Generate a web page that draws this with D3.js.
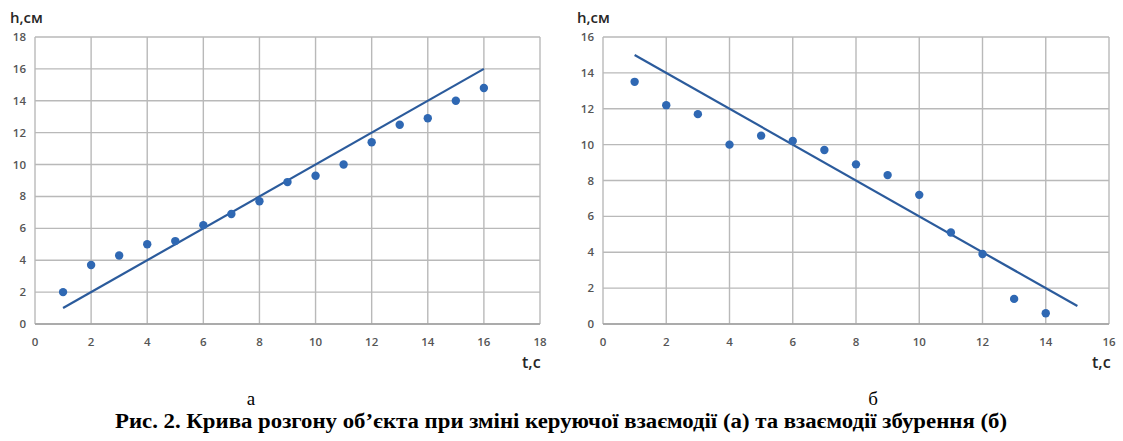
<!DOCTYPE html>
<html><head><meta charset="utf-8">
<script src="https://cdn.jsdelivr.net/npm/d3@7"></script>
<style>
body{margin:0;background:#fff;}
svg{display:block;}
</style></head><body>
<svg id="c" width="1123" height="441"></svg>
<script>
// Chart (а)
const tA = [1,2,3,4,5,6,7,8,9,10,11,12,13,14,15,16];
const hA = [2.0,3.7,4.3,5.0,5.2,6.2,6.9,7.7,8.9,9.3,10.0,11.4,12.5,12.9,14.0,14.8];
const lineA = [[1,1],[16,16]];
const xTicksA = [0,2,4,6,8,10,12,14,16,18];
const yTicksA = [0,2,4,6,8,10,12,14,16,18];
// Chart (б)
const tB = [1,2,3,4,5,6,7,8,9,10,11,12,13,14];
const hB = [13.5,12.2,11.7,10.0,10.5,10.2,9.7,8.9,8.3,7.2,5.1,3.9,1.4,0.6];
const lineB = [[1,15],[15,1]];
const xTicksB = [0,2,4,6,8,10,12,14,16];
const yTicksB = [0,2,4,6,8,10,12,14,16];
const yLabel = "h,см";
const xLabel = "t,c";
const subA = "а", subB = "б";
const caption = "Рис. 2. Крива розгону об’єкта при зміні керуючої взаємодії (а) та взаємодії збурення (б)";

const svg = d3.select("#c");
const gridC = "#b9b9b9", tickC = "#555555", dotC = "#2f68b3", lineC = "#2b5b9c";

function chart(cfg){
  const x = d3.scaleLinear().domain(cfg.xd).range([cfg.x0, cfg.x1]);
  const y = d3.scaleLinear().domain(cfg.yd).range([cfg.y0, cfg.y1]);
  const g = svg.append("g");
  g.selectAll(".vg").data(cfg.xt).join("line")
    .attr("x1", d=>x(d)).attr("x2", d=>x(d)).attr("y1", y(cfg.yd[0])).attr("y2", y(cfg.yd[1]))
    .attr("stroke", gridC).attr("stroke-width", 1.4);
  g.selectAll(".hg").data(cfg.yt).join("line")
    .attr("y1", d=>y(d)).attr("y2", d=>y(d)).attr("x1", x(cfg.xd[0])).attr("x2", x(cfg.xd[1]))
    .attr("stroke", gridC).attr("stroke-width", 1.4);
  g.append("line").attr("x1", x(cfg.xd[0])).attr("x2", x(cfg.xd[1])).attr("y1", y(0)).attr("y2", y(0))
    .attr("stroke", "#a0a0a0").attr("stroke-width", 1.6);
  g.selectAll(".xl").data(cfg.xt).join("text")
    .attr("x", d=>x(d)).attr("y", y(0)+22).attr("text-anchor","middle")
    .attr("font-family","Open Sans, sans-serif").attr("font-size", 11.5).attr("font-weight", 600)
    .attr("fill", tickC).text(d=>d);
  g.selectAll(".yl").data(cfg.yt).join("text")
    .attr("x", x(cfg.xd[0])-9).attr("y", d=>y(d)+4).attr("text-anchor","end")
    .attr("font-family","Open Sans, sans-serif").attr("font-size", 11.5).attr("font-weight", 600)
    .attr("fill", tickC).text(d=>d);
  g.append("path").datum(cfg.line)
    .attr("d", d3.line().x(d=>x(d[0])).y(d=>y(d[1])))
    .attr("stroke", lineC).attr("stroke-width", 2.2).attr("fill","none");
  g.selectAll(".pt").data(cfg.t.map((t,i)=>[t,cfg.h[i]])).join("circle")
    .attr("cx", d=>x(d[0])).attr("cy", d=>y(d[1])).attr("r", 4.2).attr("fill", dotC);
  g.append("text").attr("x", cfg.ylx).attr("y", 23)
    .attr("font-family","Open Sans, sans-serif").attr("font-size", 15).attr("font-weight", 600)
    .attr("fill", "#262626").text(yLabel);
  g.append("text").attr("x", cfg.xlx).attr("y", 368)
    .attr("font-family","Open Sans, sans-serif").attr("font-size", 16).attr("font-weight", 600)
    .attr("fill", "#262626").text(xLabel);
  g.append("text").attr("x", cfg.subx).attr("y", 405).attr("text-anchor","middle")
    .attr("font-family","Liberation Serif, serif").attr("font-size", 19)
    .attr("fill", "#000").text(cfg.sub);
}

chart({t:tA, h:hA, line:lineA, xd:[0,18], yd:[0,18], xt:xTicksA, yt:yTicksA,
  x0:35, x1:540, y0:324, y1:37, ylx:10, xlx:522, subx:251, sub:subA});
chart({t:tB, h:hB, line:lineB, xd:[0,16], yd:[0,16], xt:xTicksB, yt:yTicksB,
  x0:603, x1:1109, y0:324, y1:37, ylx:577, xlx:1092, subx:873, sub:subB});

svg.append("text").attr("x", 561).attr("y", 428).attr("text-anchor","middle")
  .attr("font-family","Liberation Serif, serif").attr("font-size", 20).attr("font-weight","bold")
  .attr("fill","#000").attr("textLength", 892).attr("lengthAdjust","spacingAndGlyphs")
  .text(caption);
</script>
</body></html>
